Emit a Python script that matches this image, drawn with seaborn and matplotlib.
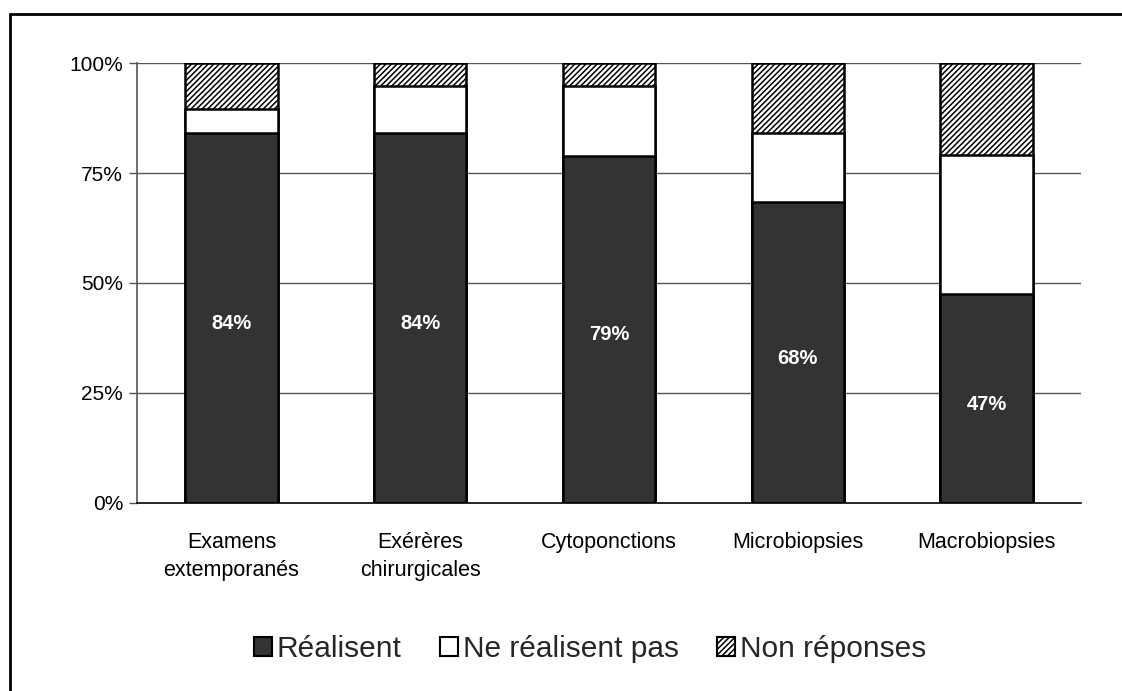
import matplotlib
matplotlib.use("Agg")
import matplotlib.pyplot as plt
from matplotlib.lines import Line2D
from matplotlib.patches import Patch
from matplotlib.ticker import FuncFormatter
import seaborn as sns
import pandas as pd

# Share of respondents per procedure (percent)
categories = ["Examens\nextemporanés", "Exérères\nchirurgicales", "Cytoponctions",
              "Microbiopsies", "Macrobiopsies"]
realisent = [84.2, 84.2, 78.9, 68.4, 47.4]
ne_realisent_pas = [5.3, 10.5, 15.8, 15.8, 31.6]
non_reponses = [10.5, 5.3, 5.3, 15.8, 21.0]
series_names = ["Réalisent", "Ne réalisent pas", "Non réponses"]

sns.set_theme(style="white")
plt.rcParams["font.family"] = ["Liberation Sans", "DejaVu Sans"]
plt.rcParams["hatch.linewidth"] = 1.1
plt.rcParams["hatch.color"] = "black"

df = pd.DataFrame({
    "cat": categories,
    "r": realisent,
    "rn": [a + b for a, b in zip(realisent, ne_realisent_pas)],
    "all": [a + b + c for a, b, c in zip(realisent, ne_realisent_pas, non_reponses)],
})

fig = plt.figure(figsize=(11.22, 6.91), dpi=100)
ax = fig.add_axes([0.1221, 0.2721, 0.8414, 0.6367])

# Gridlines behind bars
for yv in [25, 50, 75, 100]:
    ax.axhline(yv, color="#555555", lw=1.0, zorder=0)

bar_kw = dict(width=0.49, edgecolor="black", linewidth=1.8, zorder=2)
sns.barplot(data=df, x="cat", y="all", color="white", hatch="//////", ax=ax,
            errorbar=None, saturation=1, **bar_kw)
sns.barplot(data=df, x="cat", y="rn", color="white", ax=ax,
            errorbar=None, saturation=1, **bar_kw)
sns.barplot(data=df, x="cat", y="r", color="#333333", ax=ax,
            errorbar=None, saturation=1, **bar_kw)

dark = ax.containers[-1]
ax.bar_label(dark, labels=[f"{v:.0f}%" for v in realisent], label_type="center",
             color="white", fontsize=14.5, fontweight="bold", padding=-4)

ax.set_ylim(0, 100)
ax.set_xlim(-0.5, len(categories) - 0.5)
ax.set_yticks([0, 25, 50, 75, 100])
ax.yaxis.set_major_formatter(FuncFormatter(lambda v, p: f"{v:.0f}%"))
ax.set_xlabel("")
ax.set_ylabel("")
ax.tick_params(axis="y", which="both", left=True, length=6, width=1,
               color="#555555", labelsize=15, labelcolor="black", pad=4)
ax.tick_params(axis="x", length=0, labelsize=15.5, labelcolor="black", pad=21)
for lbl in ax.get_xticklabels():
    lbl.set_linespacing(1.4)

for side in ["top", "right"]:
    ax.spines[side].set_visible(False)
ax.spines["left"].set_color("#555555")
ax.spines["left"].set_linewidth(1.2)
ax.spines["bottom"].set_color("black")
ax.spines["bottom"].set_linewidth(1.2)

handles = [
    Patch(facecolor="#333333", edgecolor="black", linewidth=1.5),
    Patch(facecolor="white", edgecolor="black", linewidth=1.5),
    Patch(facecolor="white", edgecolor="black", linewidth=1.5, hatch="//////"),
]
fig.legend(handles, series_names, loc="center", bbox_to_anchor=(590 / 1122, 0.061),
           ncol=3, frameon=False, fontsize=21.5, handlelength=0.6, handleheight=0.6,
           handletextpad=0.15, columnspacing=1.3)

# Outer frame on left and top
fig.add_artist(Line2D([10 / 1122, 10 / 1122], [0, 1 - 14 / 691], color="black",
                      lw=2, transform=fig.transFigure))
fig.add_artist(Line2D([10 / 1122, 1], [1 - 14 / 691, 1 - 14 / 691], color="black",
                      lw=2, transform=fig.transFigure))

fig.savefig("out.png", dpi=100, facecolor="white")
